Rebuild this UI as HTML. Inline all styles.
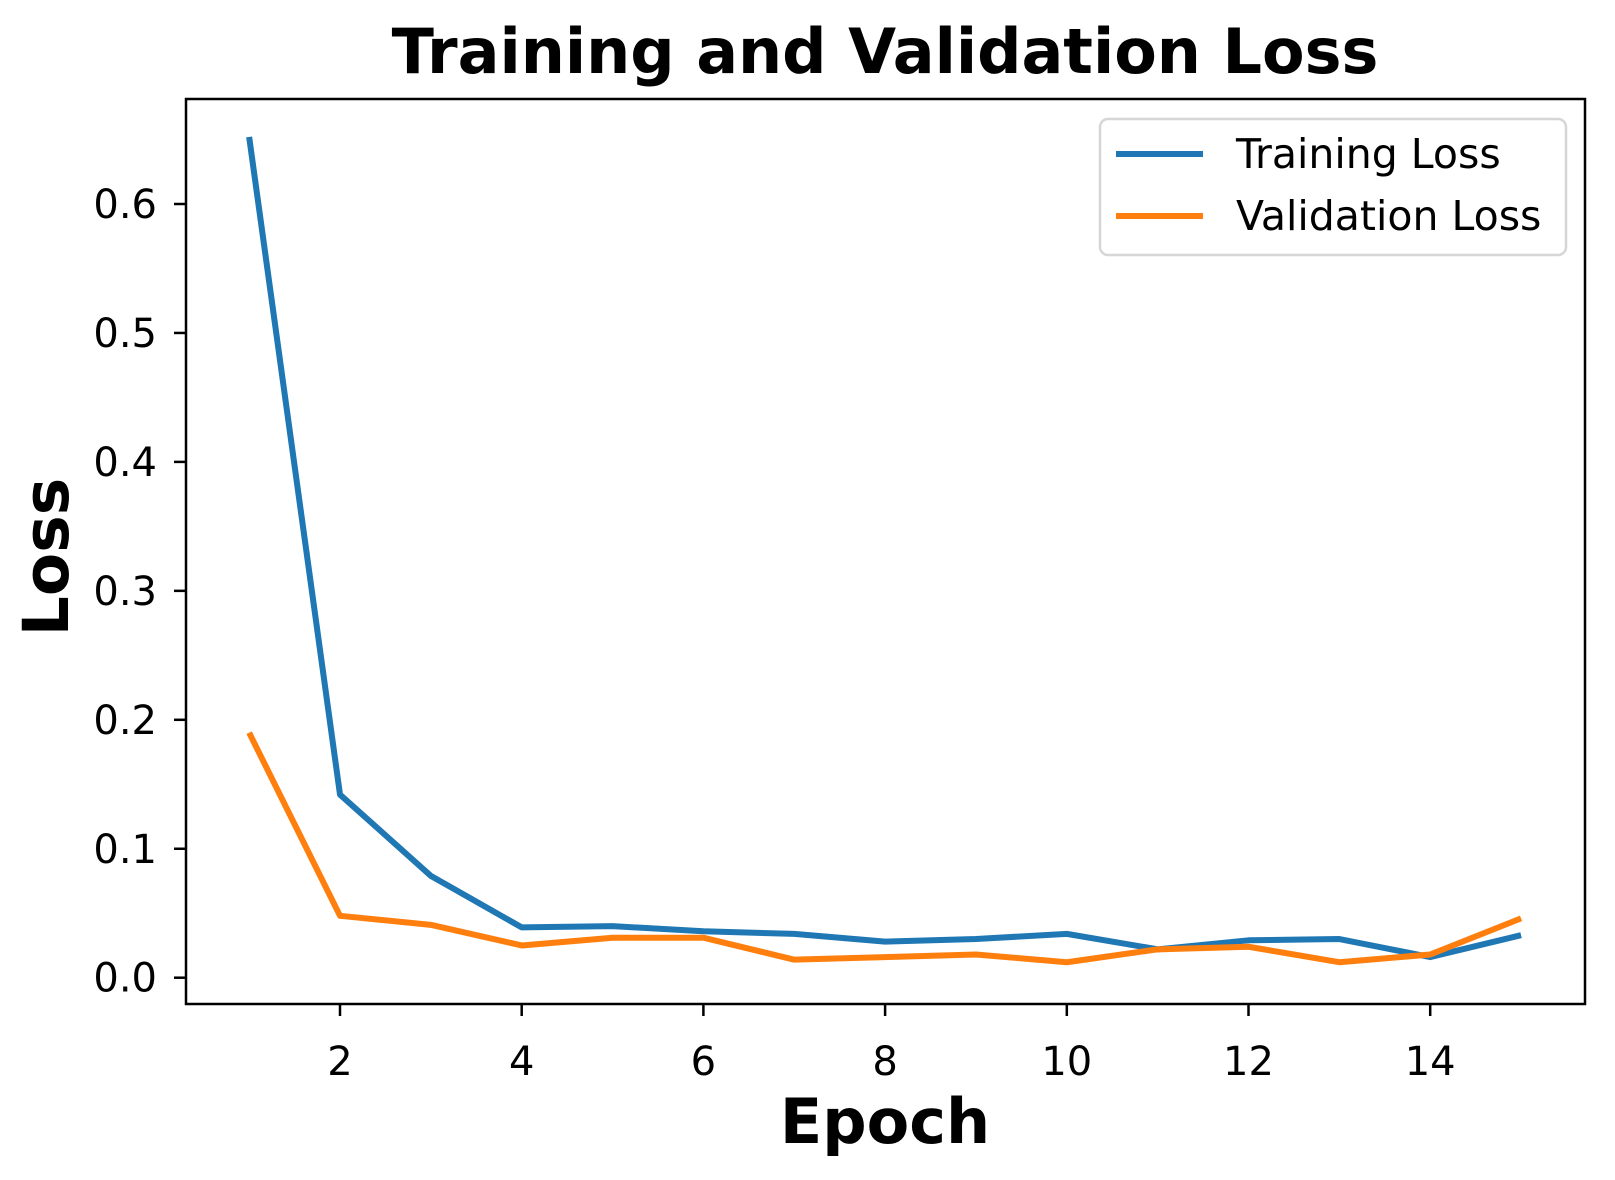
<!DOCTYPE html>
<html><head><meta charset="utf-8"><style>
body{margin:0;background:#fff}
svg text{font-family:"DejaVu Sans","Liberation Sans",sans-serif}
</style></head><body>
<svg id="chart" width="1615" height="1175" viewBox="0 0 1615 1175" xmlns="http://www.w3.org/2000/svg">
<rect width="1615" height="1175" fill="#fff"/>
<text x="885" y="73" font-size="62" font-weight="bold" text-anchor="middle">Training and Validation Loss</text>
<g id="plot"></g>
<text x="885" y="1143" font-size="62" font-weight="bold" text-anchor="middle">Epoch</text>
<text transform="translate(68,557) rotate(-90)" font-size="63" font-weight="bold" text-anchor="middle">Loss</text>
<g>
<rect x="1100" y="119" width="466" height="136" rx="8" fill="#fff" stroke="#d6d6d6" stroke-width="2.5"/>
<line x1="1116" y1="154" x2="1203" y2="154" stroke="#1f77b4" stroke-width="6"/>
<text x="1236" y="168" font-size="41">Training Loss</text>
<line x1="1116" y1="216" x2="1203" y2="216" stroke="#ff7f0e" stroke-width="6"/>
<text x="1236" y="230" font-size="41">Validation Loss</text>
</g>
</svg>
<script>
const epochs=[1,2,3,4,5,6,7,8,9,10,11,12,13,14,15];
const trainLoss=[0.652,0.142,0.079,0.039,0.040,0.036,0.034,0.028,0.030,0.034,0.022,0.029,0.030,0.016,0.033];
const valLoss=[0.190,0.048,0.041,0.025,0.031,0.031,0.014,0.016,0.018,0.012,0.022,0.024,0.012,0.018,0.046];
const xTicks=[2,4,6,8,10,12,14];
const yTicks=[0.0,0.1,0.2,0.3,0.4,0.5,0.6];
const L=186,R=1585,T=99,B=1004;
const xs=v=>340+(v-2)*90.85;
const ys=v=>977.7-v*1289.5;
const NS="http://www.w3.org/2000/svg";
const g=document.getElementById('plot');
function mk(t,a){const e=document.createElementNS(NS,t);for(const k in a)e.setAttribute(k,a[k]);g.appendChild(e);return e;}
function series(data,color,name){
  const p=mk('polyline',{points:data.map((v,i)=>xs(epochs[i])+','+ys(v)).join(' '),fill:'none',stroke:color,'stroke-width':6,'stroke-linejoin':'round'});
  
  
}
series(trainLoss,'#1f77b4','training-loss-line');
series(valLoss,'#ff7f0e','validation-loss-line');
const fr=mk('rect',{x:L,y:T,width:R-L,height:B-T,fill:'none',stroke:'#000','stroke-width':2.5});


xTicks.forEach(v=>{
  const x=xs(v);
  const t=mk('line',{x1:x,y1:B,x2:x,y2:B+12,stroke:'#000','stroke-width':2.5});
  
  
  const l=mk('text',{x:x,y:1075,'font-size':40,'text-anchor':'middle'});
  l.textContent=v;
  
  
});
yTicks.forEach(v=>{
  const y=ys(v);
  const t=mk('line',{x1:L-12,y1:y,x2:L,y2:y,stroke:'#000','stroke-width':2.5});
  
  
  const l=mk('text',{x:157,y:y+14,'font-size':40,'text-anchor':'end'});
  l.textContent=v.toFixed(1);
  
  
});
</script>
</body></html>
